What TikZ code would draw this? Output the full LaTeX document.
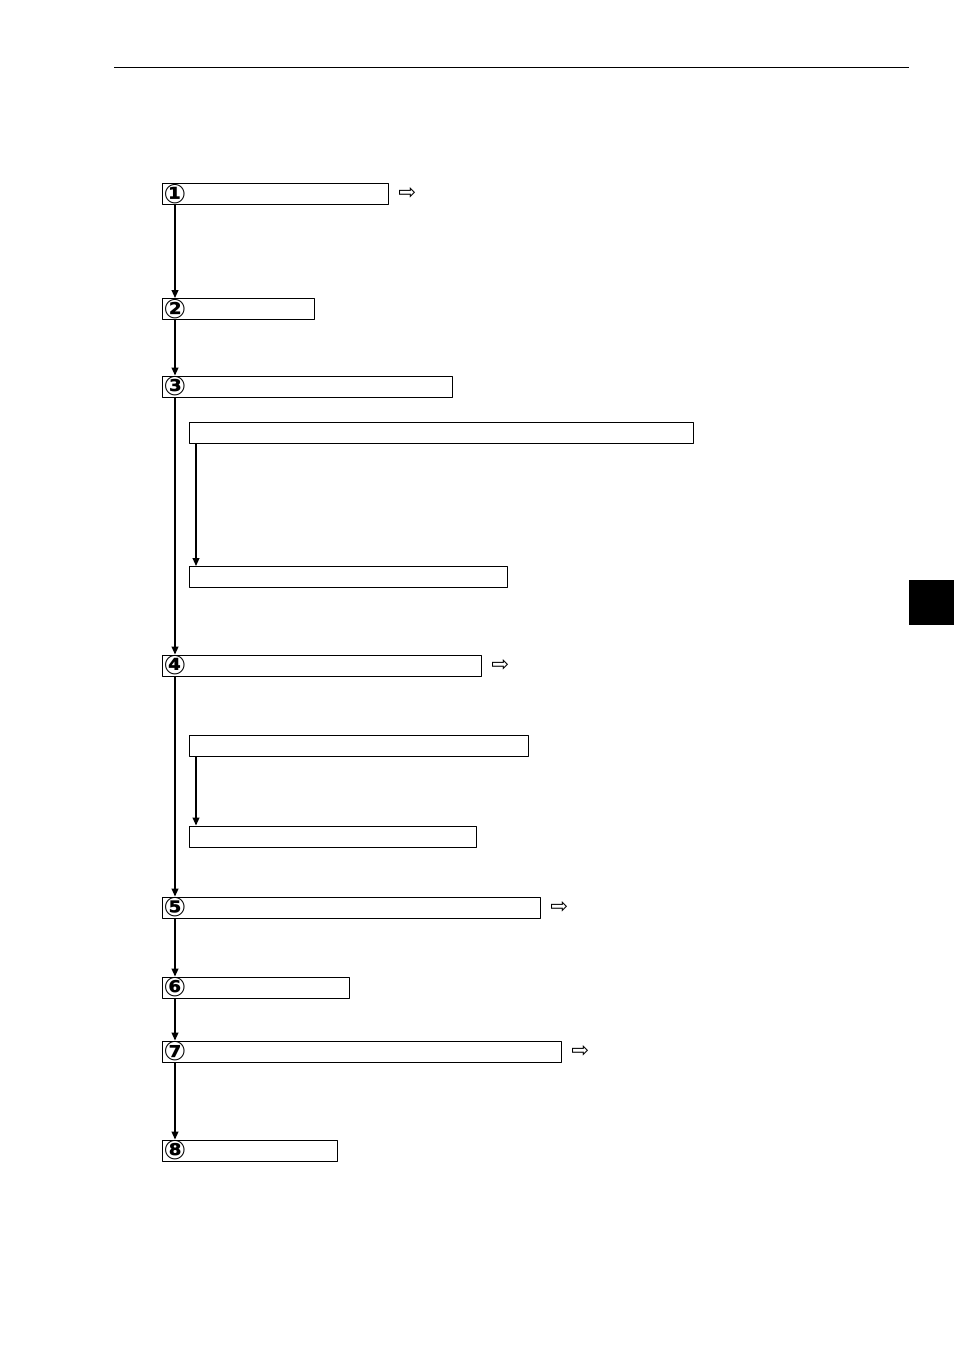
\documentclass[tikz,border=0pt]{standalone}
\usepackage{fontspec}
\newfontfamily\symfont{DejaVu Sans}
\usetikzlibrary{positioning,arrows.meta}
\def\px{0.75pt}
\tikzset{
  stepbox/.style={draw, line width=0.6pt, anchor=west, minimum height={21*\px}, inner sep=0pt},
  num/.style={anchor=center, inner sep=0pt, font=\symfont\bfseries\fontsize{20}{20}\selectfont},
  goto/.style={inner sep=0pt, font=\symfont\fontsize{16}{16}\selectfont},
  flow/.style={line width=1.3pt, -{Triangle[length=6pt,width=5pt]}}
}
\begin{document}
\begin{tikzpicture}[x=0.75pt, y=-0.75pt, line join=round]
\useasboundingbox (0,0) rectangle (954,1351);
% page header and tab
\draw[line width=0.75pt] (114,68) -- (909,68);
\fill[black] (909,580) rectangle (954,625);
\coordinate (trunk) at (175,0);
\coordinate (branch) at (196,0);
% main steps
\node[stepbox, minimum width={226*\px}] (s1) at (162,194) {};
\node[stepbox, minimum width={152*\px}] (s2) at (162,309) {};
\node[stepbox, minimum width={290*\px}] (s3) at (162,386.5) {};
\node[stepbox, minimum width={319*\px}] (s4) at (162,665.5) {};
\node[stepbox, minimum width={378*\px}] (s5) at (162,907.5) {};
\node[stepbox, minimum width={187*\px}] (s6) at (162,987.5) {};
\node[stepbox, minimum width={399*\px}] (s7) at (162,1051.5) {};
\node[stepbox, minimum width={175*\px}] (s8) at (162,1150.5) {};
% sub steps
\node[stepbox, minimum width={504*\px}] (a1) at (189,432.5) {};
\node[stepbox, minimum width={318*\px}] (a2) at (189,577) {};
\node[stepbox, minimum width={339*\px}] (b1) at (189,745.5) {};
\node[stepbox, minimum width={287*\px}] (b2) at (189,836.5) {};
% circled numbers
\foreach \s/\n in {s1/①,s2/②,s3/③,s4/④,s5/⑤,s6/⑥,s7/⑦,s8/⑧}
  \node[num] at (\s.west -| trunk) {\n};
% references
\foreach \s in {s1,s4,s5,s7}
  \node[goto, right=7pt of \s] {⇨};
% connectors
\foreach \u/\v in {s1/s2,s2/s3,s3/s4,s4/s5,s5/s6,s6/s7,s7/s8}
  \draw[flow] (\u.south -| trunk) -- (\v.north -| trunk);
\foreach \u/\v in {a1/a2,b1/b2}
  \draw[flow] (\u.south -| branch) -- (\v.north -| branch);
\end{tikzpicture}
\end{document}
